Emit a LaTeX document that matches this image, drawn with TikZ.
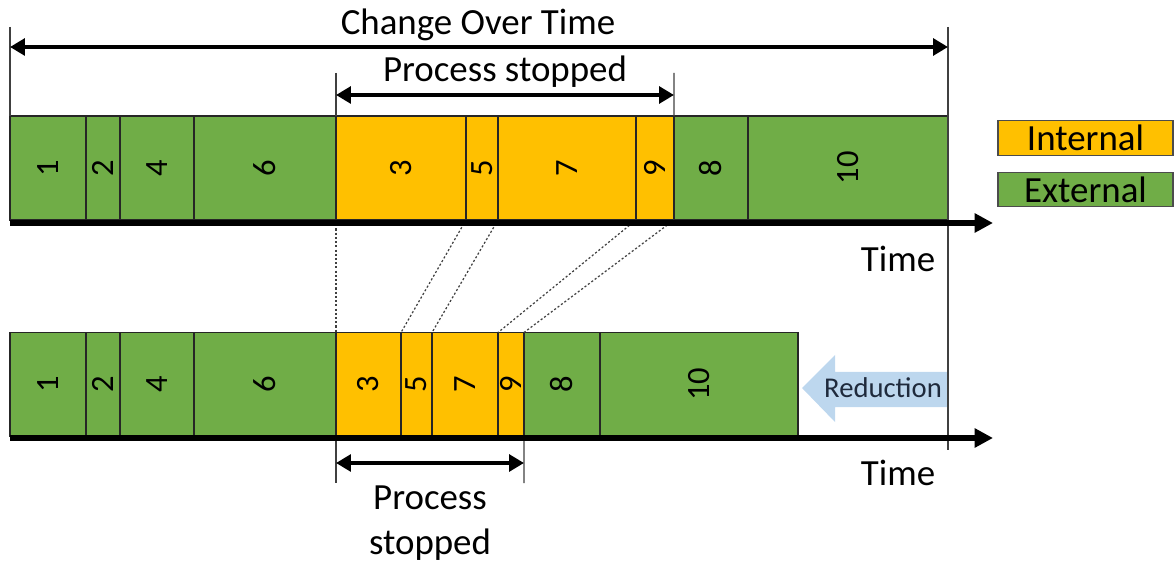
\documentclass[tikz,border=0pt]{standalone}
\usepackage{fontspec}
\setmainfont{Carlito}
\usetikzlibrary{arrows.meta}
\definecolor{extgreen}{HTML}{70AD47}
\definecolor{intorange}{HTML}{FFC000}
\definecolor{redblue}{HTML}{BDD7EE}
\definecolor{redtext}{HTML}{1F2A3C}

\begin{document}
\begin{tikzpicture}[
          x=0.02cm, y=-0.02cm,
          every node/.style={font=\fontsize{21}{25.5}\selectfont},
          block/.style={draw=black!85, line width=0.6pt, inner sep=0pt, outer sep=0pt,
            minimum height=2.08cm, anchor=west, font=\fontsize{18.5}{20}\selectfont},
          ext/.style={block, fill=extgreen},
          int/.style={block, fill=intorange},
          axis/.style={line width=3pt, -{Triangle[length=10.5pt, width=10.5pt]}},
          span/.style={line width=2.2pt, {Triangle[length=8.5pt, width=9.5pt]}-{Triangle[length=8.5pt, width=9.5pt]}},
          guide/.style={line width=0.6pt, black!75},
          link/.style={line width=0.7pt, black!75, dash pattern=on 1.2pt off 1.2pt},
          legend/.style={draw=black!70, line width=0.8pt, inner sep=0pt, minimum width=3.5cm, minimum height=0.69cm}
        ]
        \useasboundingbox (0,0) rectangle (1175,563);

        % Top row (before)
        \node[ext, minimum width=1.52cm] (t1) at (10,168) {\rotatebox{90}{1}};
        \node[ext, minimum width=0.68cm] (t2) at (86,168) {\rotatebox{90}{2}};
        \node[ext, minimum width=1.48cm] (t4) at (120,168) {\rotatebox{90}{4}};
        \node[ext, minimum width=2.84cm] (t6) at (194,168) {\rotatebox{90}{6}};
        \node[int, minimum width=2.60cm] (t3) at (336,168) {\rotatebox{90}{3}};
        \node[int, minimum width=0.64cm] (t5) at (466,168) {\rotatebox{90}{5}};
        \node[int, minimum width=2.76cm] (t7) at (498,168) {\rotatebox{90}{7}};
        \node[int, minimum width=0.76cm] (t9) at (636,168) {\rotatebox{90}{9}};
        \node[ext, minimum width=1.48cm] (t8) at (674,168) {\rotatebox{90}{8}};
        \node[ext, minimum width=4.00cm] (t10) at (748,168) {\rotatebox{90}{10}};

        % Bottom row (after)
        \node[ext, minimum width=1.52cm] (b1) at (10,384.5) {\rotatebox{90}{1}};
        \node[ext, minimum width=0.68cm] (b2) at (86,384.5) {\rotatebox{90}{2}};
        \node[ext, minimum width=1.48cm] (b4) at (120,384.5) {\rotatebox{90}{4}};
        \node[ext, minimum width=2.84cm] (b6) at (194,384.5) {\rotatebox{90}{6}};
        \node[int, minimum width=1.30cm] (b3) at (336,384.5) {\rotatebox{90}{3}};
        \node[int, minimum width=0.62cm] (b5) at (401,384.5) {\rotatebox{90}{5}};
        \node[int, minimum width=1.32cm] (b7) at (432,384.5) {\rotatebox{90}{7}};
        \node[int, minimum width=0.52cm] (b9) at (498,384.5) {\rotatebox{90}{9}};
        \node[ext, minimum width=1.52cm] (b8) at (524,384.5) {\rotatebox{90}{8}};
        \node[ext, minimum width=3.96cm] (b10) at (600,384.5) {\rotatebox{90}{10}};

        % Reduction arrow
        \fill[redblue] (802,388) -- (835,355) -- (835,372) -- (948,372)
          -- (948,407) -- (835,407) -- (835,422) -- cycle;
        \node[font=\fontsize{16.3}{18}\selectfont, text=redtext] (red) at (883,388) {Reduction};

        % Guide lines
        \coordinate (g0) at (10,27);
        \coordinate (g1) at (948,27);
        \coordinate (g2) at (948,450);
        \coordinate (p0) at (336,73);
        \coordinate (p1) at (674,73);
        \coordinate (q0) at (336,483);
        \coordinate (q1) at (524,483);
        \draw[guide] (g0) -- (t1.north west);
        \draw[guide] (g1) -- (g2);
        \draw[guide] (p0) -- (t3.north west);
        \draw[guide] (p1) -- (t9.north east);
        \draw[guide] (b3.south west) -- (q0);
        \draw[guide] (b9.south east) -- (q1);

        % Links between rows
        \draw[link] (t3.south west) -- (b3.north west);
        \draw[link] (t5.south west) -- (b5.north west);
        \draw[link] (t7.south west) -- (b7.north west);
        \draw[link] (t9.south west) -- (b9.north west);
        \draw[link] (t9.south east) -- (b9.north east);

        % Time axes
        \coordinate (ta0) at (10,223);
        \coordinate (ta1) at (993,223);
        \coordinate (ba0) at (10,438);
        \coordinate (ba1) at (993,438);
        \draw[axis] (ta0) -- (ta1);
        \draw[axis] (ba0) -- (ba1);
        \node (time1) at (898,259) {Time};
        \node (time2) at (898,473) {Time};

        % Spans
        \coordinate (c0) at (10,47);
        \coordinate (c1) at (948,47);
        \coordinate (s0) at (336,95);
        \coordinate (s1) at (674,95);
        \coordinate (r0) at (336,463);
        \coordinate (r1) at (524,463);
        \draw[span] (c0) -- (c1);
        \draw[span] (s0) -- (s1);
        \draw[span] (r0) -- (r1);
        \node (chg) at (478,25) {Change Over Time};
        \node (stop1) at (505,72) {Process stopped};
        \node[align=center] (stop2) at (430,523) {Process\\stopped};

        % Legend
        \node[legend, fill=intorange] (lint) at (1085.5,138) {Internal};
        \node[legend, fill=extgreen] (lext) at (1085.5,189.5) {External};

      \end{tikzpicture}
\end{document}
